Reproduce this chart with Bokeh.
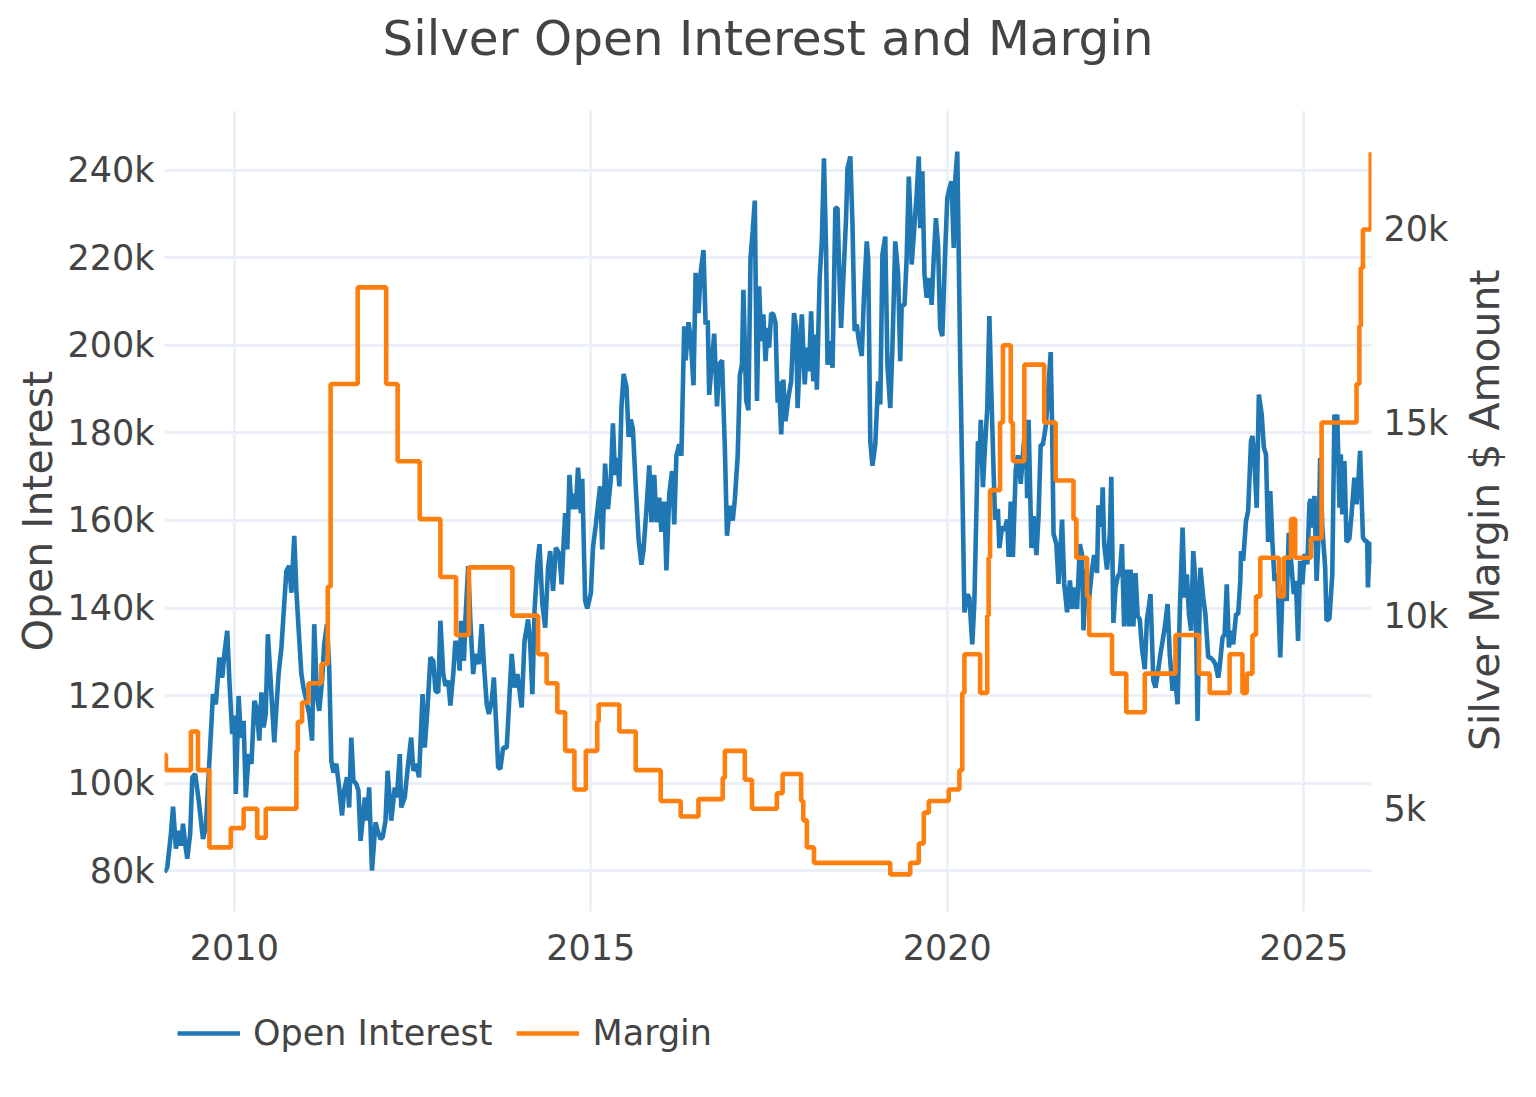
import math
from bokeh.plotting import figure
from bokeh.layouts import column, row
from bokeh.models import (Range1d, LinearAxis, FixedTicker, PrintfTickFormatter,
                          Legend, LegendItem, Label)
from bokeh.embed import file_html
from bokeh.resources import INLINE

# ---------------- data ----------------
oi_year = [
    2009.02, 2009.06, 2009.11, 2009.14, 2009.18, 2009.22, 2009.25, 2009.28, 2009.31, 2009.34,
    2009.38, 2009.41, 2009.45, 2009.50, 2009.56, 2009.60, 2009.65, 2009.70, 2009.74, 2009.79,
    2009.83, 2009.86, 2009.90, 2009.93, 2009.97, 2010.00, 2010.02, 2010.06, 2010.09, 2010.13,
    2010.16, 2010.20, 2010.24, 2010.28, 2010.31, 2010.35, 2010.38, 2010.41, 2010.44, 2010.47,
    2010.52, 2010.56, 2010.59, 2010.62, 2010.66, 2010.69, 2010.73, 2010.77, 2010.80, 2010.84,
    2010.87, 2010.90, 2010.94, 2010.97, 2011.01, 2011.05, 2011.09, 2011.12, 2011.16, 2011.19,
    2011.23, 2011.26, 2011.30, 2011.33, 2011.36, 2011.39, 2011.43, 2011.47, 2011.51, 2011.54,
    2011.58, 2011.61, 2011.64, 2011.67, 2011.71, 2011.74, 2011.77, 2011.83, 2011.86, 2011.89,
    2011.93, 2011.98, 2012.01, 2012.05, 2012.08, 2012.12, 2012.15, 2012.20, 2012.25, 2012.28,
    2012.32, 2012.34, 2012.39, 2012.43, 2012.48, 2012.51, 2012.55, 2012.59, 2012.64, 2012.67,
    2012.71, 2012.75, 2012.79, 2012.82, 2012.86, 2012.89, 2012.93, 2012.96, 2013.00, 2013.03,
    2013.07, 2013.10, 2013.14, 2013.16, 2013.18, 2013.22, 2013.24, 2013.28, 2013.31, 2013.35,
    2013.38, 2013.43, 2013.47, 2013.50, 2013.54, 2013.57, 2013.61, 2013.64, 2013.67, 2013.70,
    2013.73, 2013.77, 2013.82, 2013.85, 2013.89, 2013.93, 2013.97, 2014.03, 2014.07, 2014.12,
    2014.15, 2014.18, 2014.21, 2014.25, 2014.28, 2014.32, 2014.36, 2014.40, 2014.43, 2014.47,
    2014.51, 2014.56, 2014.59, 2014.62, 2014.64, 2014.67, 2014.70, 2014.73, 2014.76, 2014.79,
    2014.82, 2014.86, 2014.88, 2014.92, 2014.95, 2015.00, 2015.03, 2015.07, 2015.13, 2015.16,
    2015.20, 2015.24, 2015.28, 2015.31, 2015.34, 2015.37, 2015.40, 2015.43, 2015.46, 2015.50,
    2015.53, 2015.56, 2015.59, 2015.63, 2015.67, 2015.71, 2015.74, 2015.78, 2015.82, 2015.85,
    2015.89, 2015.92, 2015.96, 2015.99, 2016.03, 2016.06, 2016.10, 2016.14, 2016.17, 2016.20,
    2016.24, 2016.27, 2016.31, 2016.33, 2016.37, 2016.40, 2016.44, 2016.47, 2016.51, 2016.54,
    2016.58, 2016.61, 2016.64, 2016.66, 2016.70, 2016.73, 2016.77, 2016.80, 2016.84, 2016.88,
    2016.91, 2016.95, 2016.99, 2017.02, 2017.06, 2017.09, 2017.12, 2017.14, 2017.18, 2017.21,
    2017.24, 2017.27, 2017.30, 2017.33, 2017.36, 2017.39, 2017.42, 2017.45, 2017.48, 2017.50,
    2017.53, 2017.56, 2017.59, 2017.62, 2017.64, 2017.67, 2017.70, 2017.73, 2017.77, 2017.81,
    2017.85, 2017.88, 2017.90, 2017.94, 2017.96, 2018.00, 2018.03, 2018.06, 2018.09, 2018.12,
    2018.15, 2018.17, 2018.21, 2018.24, 2018.27, 2018.30, 2018.32, 2018.36, 2018.39, 2018.43,
    2018.46, 2018.48, 2018.51, 2018.54, 2018.58, 2018.60, 2018.64, 2018.67, 2018.70, 2018.73,
    2018.76, 2018.80, 2018.83, 2018.87, 2018.89, 2018.92, 2018.95, 2018.99, 2019.03, 2019.06,
    2019.09, 2019.13, 2019.16, 2019.20, 2019.23, 2019.27, 2019.31, 2019.34, 2019.36, 2019.40,
    2019.43, 2019.46, 2019.48, 2019.50, 2019.54, 2019.57, 2019.60, 2019.62, 2019.65, 2019.68,
    2019.71, 2019.75, 2019.78, 2019.81, 2019.84, 2019.87, 2019.90, 2019.93, 2019.97, 2020.00,
    2020.03, 2020.06, 2020.09, 2020.11, 2020.14, 2020.18, 2020.21, 2020.24, 2020.28, 2020.31,
    2020.35, 2020.38, 2020.43, 2020.45, 2020.47, 2020.50, 2020.53, 2020.56, 2020.59, 2020.62,
    2020.65, 2020.67, 2020.71, 2020.73, 2020.77, 2020.80, 2020.84, 2020.86, 2020.89, 2020.92,
    2020.96, 2020.99, 2021.03, 2021.06, 2021.10, 2021.12, 2021.14, 2021.18, 2021.21, 2021.25,
    2021.28, 2021.31, 2021.34, 2021.38, 2021.40, 2021.45, 2021.47, 2021.49, 2021.53, 2021.56,
    2021.61, 2021.64, 2021.68, 2021.72, 2021.75, 2021.78, 2021.82, 2021.86, 2021.89, 2021.91,
    2021.95, 2021.98, 2022.03, 2022.06, 2022.10, 2022.12, 2022.16, 2022.18, 2022.20, 2022.24,
    2022.28, 2022.30, 2022.33, 2022.36, 2022.39, 2022.42, 2022.45, 2022.48, 2022.51, 2022.55,
    2022.57, 2022.61, 2022.64, 2022.67, 2022.70, 2022.73, 2022.77, 2022.80, 2022.83, 2022.85,
    2022.89, 2022.92, 2022.95, 2022.99, 2023.02, 2023.05, 2023.09, 2023.12, 2023.16, 2023.19,
    2023.23, 2023.26, 2023.30, 2023.33, 2023.36, 2023.39, 2023.42, 2023.45, 2023.48, 2023.51,
    2023.53, 2023.55, 2023.59, 2023.62, 2023.66, 2023.69, 2023.73, 2023.76, 2023.80, 2023.82,
    2023.86, 2023.89, 2023.92, 2023.95, 2023.98, 2024.01, 2024.05, 2024.08, 2024.11, 2024.12,
    2024.15, 2024.19, 2024.22, 2024.26, 2024.28, 2024.30, 2024.34, 2024.37, 2024.41, 2024.44,
    2024.47, 2024.50, 2024.53, 2024.56, 2024.59, 2024.63, 2024.67, 2024.70, 2024.73, 2024.76,
    2024.79, 2024.83, 2024.86, 2024.89, 2024.92, 2024.95, 2024.98, 2025.01, 2025.05, 2025.08,
    2025.10, 2025.12, 2025.15, 2025.18, 2025.21, 2025.23, 2025.26, 2025.30, 2025.32, 2025.36,
    2025.40, 2025.43, 2025.45, 2025.47, 2025.50, 2025.52, 2025.54, 2025.57, 2025.60, 2025.64,
    2025.67, 2025.71, 2025.74, 2025.76, 2025.79, 2025.83, 2025.86, 2025.89, 2025.90, 2025.93,
    2025.95,
]

# open interest, thousands of contracts
oi_k = [
    79.6, 80.8, 88.4, 94.6, 85.0, 89.1, 85.7, 90.7, 86.1, 82.7,
    88.4, 101.3, 102.1, 96.0, 87.2, 89.9, 105.1, 120.3, 118.0, 128.7,
    124.1, 129.5, 134.8, 123.4, 111.2, 115.4, 97.5, 119.9, 110.4, 114.2,
    96.7, 106.6, 104.4, 118.8, 117.3, 109.7, 120.7, 112.7, 115.8, 134.0,
    120.3, 109.3, 117.3, 124.9, 131.0, 138.6, 148.5, 149.6, 143.5, 156.5,
    143.9, 135.5, 124.9, 121.8, 118.8, 115.8, 109.7, 136.3, 119.6, 116.5,
    123.4, 131.7, 136.3, 126.4, 105.1, 102.4, 104.4, 99.0, 92.6, 98.3,
    101.3, 94.4, 110.4, 100.5, 99.8, 98.3, 86.8, 96.7, 91.4, 99.0,
    80.0, 91.0, 89.1, 87.2, 87.6, 91.4, 102.8, 91.4, 99.0, 96.7,
    106.6, 94.4, 96.7, 103.2, 110.4, 102.8, 104.4, 101.3, 120.3, 108.1,
    117.3, 128.7, 127.9, 121.1, 120.7, 137.1, 124.9, 122.2, 123.4, 117.7,
    124.9, 132.5, 130.2, 125.7, 137.1, 127.9, 137.1, 149.6, 137.1, 124.9,
    129.5, 127.2, 136.3, 127.2, 118.0, 115.8, 118.8, 124.1, 114.2, 103.6,
    103.2, 108.1, 108.1, 117.3, 129.5, 121.8, 124.9, 117.3, 132.5, 137.4,
    131.7, 120.3, 139.3, 150.0, 154.6, 140.9, 135.5, 149.2, 153.0, 143.9,
    153.8, 152.3, 145.4, 155.3, 161.7, 153.4, 170.4, 162.6, 166.1, 162.6,
    172.1, 161.7, 169.5, 141.7, 139.9, 143.4, 153.8, 159.1, 167.8, 153.4,
    173.0, 162.6, 169.5, 182.2, 170.4, 174.3, 167.8, 186.1, 193.5, 190.5,
    179.1, 183.1, 180.9, 167.8, 155.6, 149.9, 153.4, 162.6, 172.6, 159.6,
    170.4, 159.6, 165.2, 157.4, 164.3, 148.6, 166.1, 171.3, 159.1, 174.8,
    177.4, 174.8, 204.4, 196.6, 205.3, 201.8, 190.9, 216.6, 207.4, 216.6,
    221.8, 204.8, 205.7, 188.7, 196.6, 202.7, 186.1, 195.7, 196.6, 176.5,
    156.5, 163.4, 160.0, 164.8, 174.8, 193.1, 195.7, 212.7, 187.4, 185.2,
    220.0, 226.1, 233.1, 187.3, 213.5, 201.0, 207.1, 196.4, 204.0, 199.5,
    207.4, 207.1, 205.2, 186.9, 191.8, 179.7, 192.2, 182.7, 188.0, 191.8,
    207.4, 204.0, 185.7, 201.0, 207.1, 191.1, 199.5, 194.1, 207.8, 191.8,
    202.5, 189.9, 215.4, 223.8, 242.8, 221.5, 195.6, 201.0, 194.9, 231.4,
    231.4, 219.2, 204.0, 214.7, 229.1, 240.5, 243.2, 227.6, 203.3, 204.8,
    201.0, 197.6, 210.9, 223.8, 220.0, 178.1, 172.5, 177.4, 191.8, 186.5,
    220.8, 224.9, 195.6, 185.7, 199.5, 223.8, 216.3, 196.4, 209.1, 209.3,
    220.0, 238.6, 230.6, 218.5, 227.6, 234.4, 243.2, 226.8, 239.8, 216.3,
    210.9, 215.4, 209.3, 220.0, 229.1, 223.1, 204.0, 202.1, 221.5, 233.7,
    235.9, 237.5, 222.3, 237.5, 244.3, 197.7, 169.2, 139.0, 143.1, 142.3,
    131.7, 141.5, 178.1, 173.3, 183.0, 167.6, 177.3, 185.5, 206.7, 187.9,
    170.8, 160.2, 162.6, 153.7, 158.6, 157.7, 160.2, 151.7, 164.3, 151.7,
    171.6, 174.9, 168.4, 174.9, 183.0, 165.1, 183.0, 153.7, 161.0, 152.1,
    161.0, 177.3, 177.3, 181.4, 185.5, 198.5, 181.4, 157.0, 154.6, 145.5,
    160.2, 145.5, 139.0, 146.3, 139.8, 144.7, 139.8, 154.6, 152.1, 134.9,
    148.8, 140.6, 148.8, 152.1, 148.0, 163.5, 158.6, 167.6, 154.6, 148.8,
    157.0, 170.0, 136.6, 144.7, 147.2, 148.0, 154.6, 135.8, 148.8, 135.8,
    148.8, 135.8, 148.0, 138.2, 137.4, 130.9, 126.0, 137.4, 140.6, 143.2,
    123.4, 121.8, 124.9, 129.5, 132.5, 135.5, 140.9, 129.5, 121.1, 124.9,
    118.0, 138.6, 158.4, 142.4, 147.7, 138.6, 134.8, 153.0, 146.2, 114.2,
    132.5, 149.2, 142.4, 138.6, 128.7, 128.7, 128.0, 127.2, 124.1, 126.4,
    133.2, 134.0, 145.4, 131.0, 134.8, 131.7, 138.6, 138.6, 146.2, 153.0,
    150.8, 159.9, 162.2, 178.1, 179.3, 175.9, 162.9, 188.8, 184.2, 176.7,
    175.1, 155.1, 166.7, 155.1, 146.2, 147.7, 128.7, 143.2, 146.2, 141.6,
    157.2, 149.2, 143.2, 146.2, 132.5, 150.8, 145.4, 152.3, 150.0, 164.1,
    164.9, 158.4, 165.6, 146.2, 157.2, 174.3, 158.4, 149.2, 137.1, 137.6,
    147.7, 184.2, 182.0, 184.2, 162.9, 175.1, 161.4, 173.6, 155.1, 155.9,
    161.4, 169.8, 163.7, 167.5, 175.9, 156.1, 155.3, 155.3, 144.7, 155.1,
    150.0,
]

# margin change dates and new margin level (thousands of $)
margin_year = [
    2009.02, 2009.04, 2009.39, 2009.49, 2009.65, 2009.95, 2010.13, 2010.32, 2010.44, 2010.87,
    2010.89, 2010.95, 2011.04, 2011.22, 2011.31, 2011.35, 2011.73, 2012.13, 2012.29, 2012.60,
    2012.89, 2013.11, 2013.29, 2013.90, 2014.26, 2014.38, 2014.53, 2014.64, 2014.77, 2014.93,
    2015.09, 2015.11, 2015.40, 2015.63, 2015.98, 2016.26, 2016.51, 2016.85, 2016.88, 2017.16,
    2017.26, 2017.61, 2017.69, 2017.95, 2017.98, 2018.03, 2018.13, 2019.20, 2019.48, 2019.60,
    2019.67, 2019.74, 2020.02, 2020.17, 2020.21, 2020.24, 2020.46, 2020.56, 2020.58, 2020.60,
    2020.74, 2020.78, 2020.89, 2020.92, 2021.08, 2021.36, 2021.52, 2021.77, 2021.81, 2021.96,
    2021.99, 2022.31, 2022.51, 2022.77, 2023.20, 2023.53, 2023.68, 2023.96, 2024.14, 2024.20,
    2024.28, 2024.33, 2024.39, 2024.65, 2024.72, 2024.82, 2024.88, 2025.10, 2025.25, 2025.74,
    2025.78, 2025.80, 2025.83, 2025.94,
]
margin_k = [
    6.4, 6.0, 7.0, 6.0, 4.0, 4.5, 5.0, 4.25, 5.0, 6.5,
    7.25, 7.75, 8.25, 8.75, 10.75, 16.0, 18.5, 16.0, 14.0, 12.5,
    11.0, 9.5, 11.25, 10.0, 9.0, 8.25, 7.5, 6.5, 5.5, 6.5,
    7.25, 7.7, 7.0, 6.0, 5.2, 4.8, 5.25, 5.8, 6.5, 5.75,
    5.0, 5.4, 5.9, 5.2, 4.7, 4.0, 3.6, 3.3, 3.6, 4.1,
    4.9, 5.2, 5.5, 6.0, 8.0, 9.0, 8.0, 10.0, 11.5, 13.25,
    15.0, 17.0, 15.0, 14.0, 16.5, 15.0, 13.5, 12.5, 11.5, 10.5,
    9.5, 8.5, 7.5, 8.5, 9.5, 8.5, 8.0, 9.0, 8.0, 8.5,
    9.5, 10.5, 11.5, 10.5, 11.5, 12.5, 11.5, 12.0, 15.0, 16.0,
    17.5, 19.0, 20.0, 22.0,
]

x_ticks = [2010, 2015, 2020, 2025]
oi_ticks = [80, 100, 120, 140, 160, 180, 200, 220, 240]
margin_ticks = [5, 10, 15, 20]

# ---------------- styling ----------------
FONT = "DejaVu Sans"
TXT = "#444444"
GRID = "#EBF0F8"
BLUE = "#1f77b4"
ORANGE = "#ff7f0e"
LW = 4.6
W = 1520
LEFT, RIGHT = 164, 149
MAIN_W, MAIN_H = 1455, 865


def blank(width, height, left=LEFT, right=RIGHT):
    f = figure(width=width, height=height, output_backend="svg", toolbar_location=None,
               x_range=Range1d(0, 1), y_range=Range1d(0, 1), title=None,
               min_border_left=left, min_border_right=right, min_border_top=0,
               min_border_bottom=0, background_fill_color="white",
               border_fill_color="white")
    f.outline_line_color = None
    f.axis.visible = False
    f.grid.visible = False
    return f


# ---- title strip ----
pt = blank(W, 110)
pt.add_layout(Label(x=0.5, y=0.66, text="Silver Open Interest and Margin",
                    text_align="center", text_baseline="middle",
                    text_font=FONT, text_font_size="48.5px", text_color=TXT))

# ---- main chart ----
p = figure(width=MAIN_W, height=MAIN_H, output_backend="svg", toolbar_location=None,
           title=None,
           x_range=Range1d(2009.02, 2025.95), y_range=Range1d(70.64, 253.7),
           min_border_left=LEFT, min_border_right=MAIN_W - 1371, min_border_top=0,
           min_border_bottom=64, background_fill_color="white",
           border_fill_color="white")
p.outline_line_color = None
p.extra_y_ranges = {"margin": Range1d(2.34, 23.08)}

r_oi = p.line(oi_year, oi_k, line_color=BLUE, line_width=LW)
r_m = p.step(margin_year, margin_k, mode="after", line_color=ORANGE, line_width=LW,
             y_range_name="margin")

xa = p.xaxis[0]
xa.ticker = FixedTicker(ticks=x_ticks)
xa.major_label_standoff = 16
ya = p.yaxis[0]
ya.ticker = FixedTicker(ticks=oi_ticks)
ya.formatter = PrintfTickFormatter(format="%dk")
ya.axis_label = "Open Interest"
ya.major_label_standoff = 4
ya.axis_label_standoff = 2

ra = LinearAxis(y_range_name="margin", ticker=FixedTicker(ticks=margin_ticks),
                formatter=PrintfTickFormatter(format="%dk"))
ra.major_label_standoff = 6
p.add_layout(ra, "right")

for ax in (xa, ya, ra):
    ax.axis_line_color = None
    ax.major_tick_line_color = None
    ax.minor_tick_line_color = None
    ax.major_label_text_font = FONT
    ax.major_label_text_font_size = "35px"
    ax.major_label_text_color = TXT
    ax.axis_label_text_font = FONT
    ax.axis_label_text_font_size = "41px"
    ax.axis_label_text_font_style = "normal"
    ax.axis_label_text_color = TXT

p.xgrid.ticker = FixedTicker(ticks=x_ticks)
p.ygrid.ticker = FixedTicker(ticks=oi_ticks)
for g in (p.xgrid[0], p.ygrid[0]):
    g.grid_line_color = GRID
    g.grid_line_width = 2.8

# ---- right axis title strip (reads bottom to top) ----
pr = blank(58, MAIN_H, left=0, right=0)
pr.add_layout(Label(x=0.5, y=0.501, text="Silver Margin $ Amount", angle=math.pi / 2,
                    text_align="center", text_baseline="middle",
                    text_font=FONT, text_font_size="41px", text_color=TXT))

# ---- legend strip (series drawn outside its view, only their legend glyphs show) ----
pl = blank(W, 105)
k_oi = pl.line(oi_year, oi_k, line_color=BLUE, line_width=LW)
k_m = pl.line(margin_year, margin_k, line_color=ORANGE, line_width=LW)
legend = Legend(items=[LegendItem(label="Open Interest", renderers=[k_oi]),
                       LegendItem(label="Margin", renderers=[k_m])],
                orientation="horizontal", location=(13, 26),
                glyph_width=63, glyph_height=42, label_height=42,
                label_standoff=13, spacing=24,
                padding=0, margin=0, border_line_color=None,
                background_fill_alpha=0, label_text_font=FONT,
                label_text_font_size="35px", label_text_color=TXT)
pl.add_layout(legend, "center")

layout = column(pt, row(p, pr, spacing=0), pl, spacing=0)
open("out.html", "w").write(file_html(layout, INLINE))
